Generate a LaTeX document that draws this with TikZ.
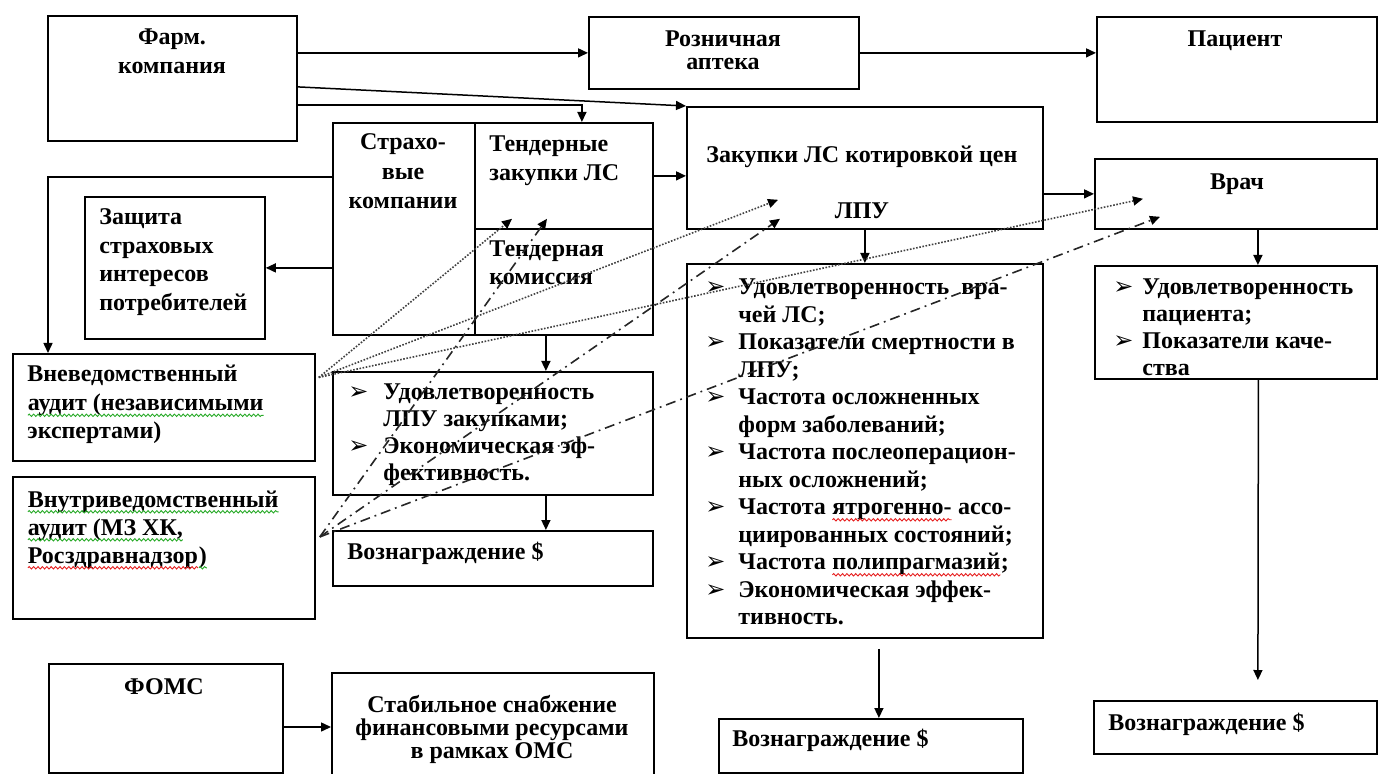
\documentclass[tikz,border=0pt]{standalone}
\usepackage{fontspec}
\setmainfont{Liberation Serif}
\newfontfamily\symfont{DejaVu Sans}
\usetikzlibrary{arrows.meta,calc,decorations.pathmorphing}

\definecolor{spellgreen}{RGB}{40,170,40}
\definecolor{spellred}{RGB}{230,30,30}

% wavy proofing underline under a piece of text
\newcommand\wave[2]{\tikz[baseline=(w.base)]{\node[inner sep=0pt, outer sep=0pt] (w) {#2};
  \draw[#1, line width=0.45pt, decorate, decoration={snake, amplitude=0.6pt, segment length=2.2pt}]
    ([yshift=-2.4pt]w.base west) -- ([yshift=-2.4pt]w.base east);}}

% text blocks: first row's baseline is the node's baseline
\newcommand\lines[2]{\begin{tabular}[t]{@{}#1@{}}#2\end{tabular}}
% list marker hung to the left of the item text
\newcommand\bul[1]{\llap{\makebox[#1][l]{\symfont\fontsize{12}{12}\selectfont ➢}}}
\newcommand\fs[1]{\fontsize{12}{#1}\selectfont\bfseries}

\tikzset{
  box/.style={draw, line width=0.9pt, inner sep=0pt, anchor=north west},
  txt/.style={inner sep=0pt},
  ln/.style={line width=0.75pt},
  arr/.style={ln, -{Triangle[length=5pt,width=4.5pt]}},
  dotl/.style={line width=0.8pt, black!75, dash pattern=on 0.8pt off 0.8pt,
    -{Triangle[length=5pt,width=4.5pt,color=black]}},
  dashdotl/.style={line width=0.8pt, black!85, dash pattern=on 5pt off 2.5pt on 0.9pt off 2.5pt,
    -{Triangle[length=5pt,width=4.5pt,color=black]}},
}

\begin{document}
\begin{tikzpicture}[x=0.5pt, y=-0.5pt]
\useasboundingbox (0,0) rectangle (1379,774);
\clip (0,0) rectangle (1379,774);

% ---- boxes ----
\node[box, minimum width=124.5pt, minimum height=62.5pt] (farm)  at (47,15)   {};
\node[box, minimum width=135pt,   minimum height=36pt]   (apt)   at (588,16)  {};
\node[box, minimum width=140pt,   minimum height=52.5pt] (pat)   at (1096,16) {};
\node[box, minimum width=71pt,    minimum height=106pt]  (strah) at (332,122) {};
\node[box, minimum width=89pt,    minimum height=53pt]   (tendz) at (474,122) {};
\node[box, minimum width=89pt,    minimum height=53pt]   (tendk) at (474,228) {};
\node[box, minimum width=178pt,   minimum height=61pt]   (zak)   at (686,106) {};
\node[box, minimum width=90pt,    minimum height=71pt]   (zash)  at (84,196)  {};
\node[box, minimum width=141pt,   minimum height=35pt]   (vrach) at (1094,158) {};
\node[box, minimum width=141pt,   minimum height=56.5pt] (vpat)  at (1094,265) {};
\node[box, minimum width=178pt,   minimum height=187pt]  (lpu)   at (686,263) {};
\node[box, minimum width=160pt,   minimum height=61.5pt] (udlpu) at (332,371) {};
\node[box, minimum width=160pt,   minimum height=27.5pt] (voz1)  at (332,530) {};
\node[box, minimum width=151pt,   minimum height=53.5pt] (vnev)  at (12,353)  {};
\node[box, minimum width=151pt,   minimum height=71pt]   (vnut)  at (12,476)  {};
\node[box, minimum width=117pt,   minimum height=54.5pt] (foms)  at (48,663)  {};
\node[box, minimum width=161pt,   minimum height=59pt]   (stab)  at (331,672) {};
\node[box, minimum width=152pt,   minimum height=27pt]   (voz2)  at (718,718) {};
\node[box, minimum width=141.5pt, minimum height=26.5pt] (voz3)  at (1093,700) {};

% ---- texts ----
\node[txt, anchor=base, font=\fs{14.5pt}] (tfarm) at (172,45) {\lines{c}{Фарм.\\компания}};
\node[txt, anchor=base, font=\fs{11.5pt}] (tapt) at (723,47) {\lines{c}{Розничная\\аптека}};
\node[txt, anchor=base, font=\fs{13.75pt}] (tpat) at (1235,47) {Пациент};
\node[txt, anchor=base, font=\fs{14.75pt}] (tstrah) at (403,150) {\lines{c}{Страхо-\\вые\\компании}};
\node[txt, anchor=base west, font=\fs{14.5pt}] (ttendz) at (489,152) {\lines{l}{Тендерные\\закупки ЛС}};
\node[txt, anchor=base west, font=\fs{14pt}] (ttendk) at (489,257) {\lines{l}{Тендерная\\комиссия}};
\node[txt, anchor=base, font=\fs{13.75pt}] (tzak) at (862,163) {\lines{c}{Закупки ЛС котировкой цен\\[14pt]ЛПУ}};
\node[txt, anchor=base, font=\fs{13.75pt}] (tvrach) at (1237,190) {Врач};
\node[txt, anchor=base west, font=\fs{14.25pt}] (tzash) at (99,225) {\lines{l}{Защита\\страховых\\интересов\\потребителей}};
\node[txt, anchor=base west, font=\fs{14.25pt}] (tvnev) at (27,382) {\lines{l}{Вневедомственный\\\wave{spellgreen}{аудит (независимыми}\\экспертами)}};
\node[txt, anchor=base west, font=\fs{14pt}] (tvnut) at (27,507) {\lines{l}{\wave{spellgreen}{Внутриведомственный}\\\wave{spellgreen}{аудит (МЗ ХК,}\\\wave{spellred}{Росздравнадзор}\wave{spellgreen}{)}}};
\node[txt, anchor=base west, font=\fs{13.5pt}] (tudlpu) at (383,400) {\lines{l}{%
  \bul{17.5pt}Удовлетворенность\\ЛПУ закупками;\\
  \bul{17.5pt}Экономическая эф-\\фективность.}};
\node[txt, anchor=base west, font=\fs{13.75pt}] (tlpu) at (738,295) {\lines{l}{%
  \bul{16.5pt}Удовлетворенность\ \ вра-\\чей ЛС;\\
  \bul{16.5pt}Показатели смертности в\\ЛПУ;\\
  \bul{16.5pt}Частота осложненных\\форм заболеваний;\\
  \bul{16.5pt}Частота послеоперацион-\\ных осложнений;\\
  \bul{16.5pt}Частота \wave{spellred}{ятрогенно-} ассо-\\циированных состояний;\\
  \bul{16.5pt}Частота \wave{spellred}{полипрагмазий};\\
  \bul{16.5pt}Экономическая эффек-\\тивность.}};
\node[txt, anchor=base west, font=\fs{13.5pt}] (tvpat) at (1142,295) {\lines{l}{%
  \bul{14.5pt}Удовлетворенность\\пациента;\\
  \bul{14.5pt}Показатели каче-\\ства}};
\node[txt, anchor=base west, font=\fs{13.75pt}] (tvoz1) at (347,559) {Вознаграждение \$};
\node[txt, anchor=base west, font=\fs{13.75pt}] (tvoz2) at (732,746) {Вознаграждение \$};
\node[txt, anchor=base west, font=\fs{13.75pt}] (tvoz3) at (1108,730) {Вознаграждение \$};
\node[txt, anchor=base, font=\fs{13.75pt}] (tfoms) at (164,694) {ФОМС};
\node[txt, anchor=base, font=\fs{11.5pt}] (tstab) at (492,712) {\lines{c}{Стабильное снабжение\\финансовыми ресурсами\\в рамках ОМС}};

% ---- solid connectors ----
\draw[arr] (farm.east |- apt.west) -- (apt.west);
\draw[arr] (apt.east) -- (apt.east -| pat.west);
\draw[arr] ($(farm.east)+(0,8.5)$) -- (zak.north west);
\draw[arr] ($(farm.east)+(0,26.5)$) -| ($(tendz.north)+(18,0)$);
\draw[arr] (tendz.east) -- (tendz.east -| zak.west);
\draw[arr] ($(strah.west)+(0,-52)$) -| ($(vnev.north west)+(36,0)$);
\draw[arr] (zash.east -| strah.west) -- (zash.east);
\draw[arr] (zak.south) -- (lpu.north);
\draw[arr] (vrach.west -| zak.east) -- (vrach.west);
\draw[arr] ($(vrach.south)+(22,0)$) -- ($(vpat.north)+(22,0)$);
\coordinate (v3top) at ($(voz3.north)+(22.5,-20)$);
\draw[arr] ($(vpat.south)+(22.5,0)$) -- (v3top);
\draw[arr] ($(tendk.south)+(-18,0)$) -- ($(udlpu.north)+(53,0)$);
\draw[arr] ($(udlpu.south)+(53,0)$) -- ($(voz1.north)+(53,0)$);
\coordinate (lpuout) at ($(lpu.south)+(14,10)$);
\draw[arr] (lpuout) -- (lpuout |- voz2.north);
\draw[arr] (foms.east |- 0,727) -- (stab.west |- 0,727);

% ---- audit links ----
\coordinate (vnevout) at ($(vnev.east)+(3,-30)$);
\coordinate (vnutout) at ($(vnut.east)+(4,-11)$);
\draw[dotl] (vnevout) -- ($(tendz.south west)+(38,-11)$);
\draw[dotl] (vnevout) -- ($(zak.south west)+(92,-30)$);
\draw[dotl] (vnevout) -- ($(vrach.south west)+(49,-31)$);
\draw[dashdotl] (vnutout) -- ($(tendz.south west)+(73,-11)$);
\draw[dashdotl] (vnutout) -- ($(zak.south west)+(94,-11)$);
\draw[dashdotl] (vnutout) -- ($(vrach.south west)+(66,-13)$);
\end{tikzpicture}
\end{document}
